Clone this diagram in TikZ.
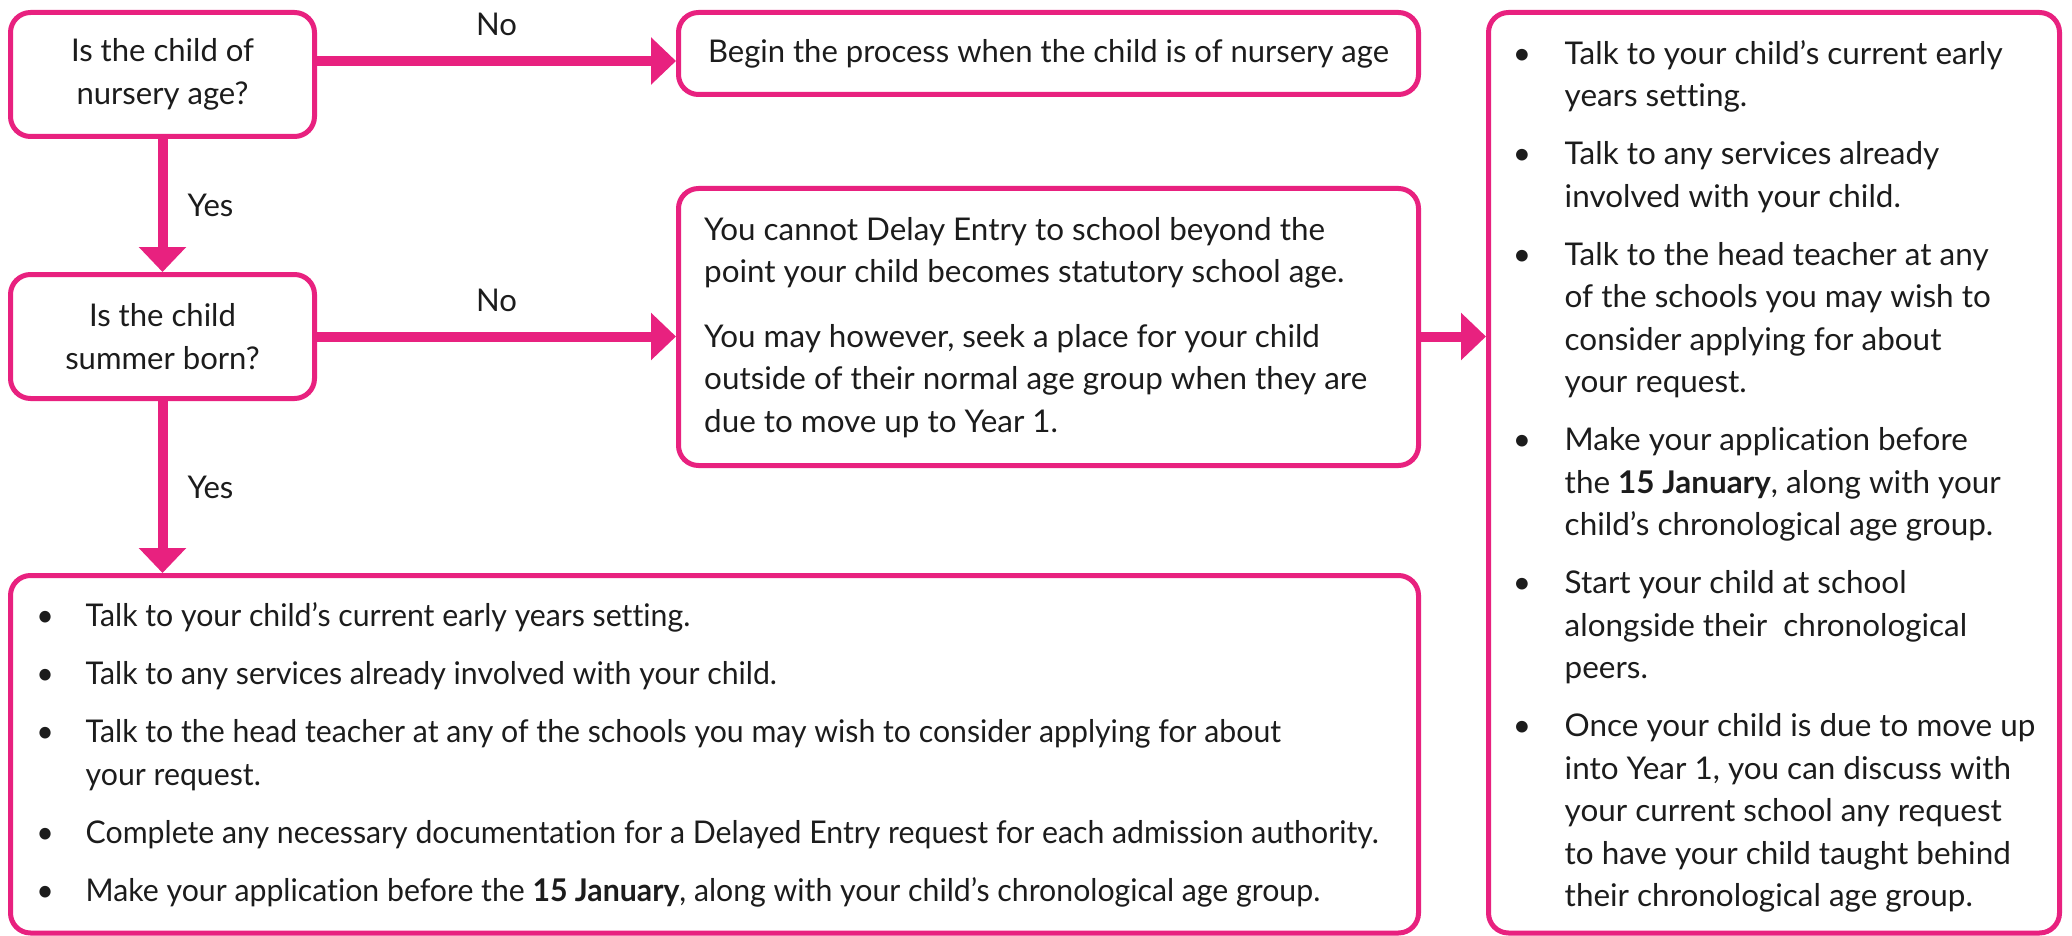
\documentclass[tikz,border=0pt]{standalone}
\usepackage{fontspec}
\setmainfont{Lato}[Ligatures={NoCommon}]
\usetikzlibrary{arrows.meta}
\definecolor{pinkc}{RGB}{232,33,127}
\definecolor{txtc}{RGB}{28,28,28}
\newlength{\bulind}
\newlength{\bulpos}
\newlength{\tmpw}
\newcommand{\bitem}[1]{\hangindent=\bulind\hangafter=1\noindent\makebox[\bulind][l]{\hspace*{\bulpos}\makebox[0pt][c]{•}}\rule{0pt}{30pt}#1\par}
\newcommand{\basesz}{\fontsize{31.3}{42.5}\selectfont}
\newcommand{\calcst}[3]{\begingroup\basesz\settowidth{\tmpw}{#3}\pgfmathparse{#2/\tmpw}\xdef#1{\pgfmathresult}\endgroup}
\newcommand{\usest}[1]{\edef\tmpcmd{\noexpand\addfontfeatures{FakeStretch=#1}}\tmpcmd}
\begin{document}
\calcst{\stA}{183}{Is the child of}%
\calcst{\stB}{681}{Begin the process when the child is of nursery age}%
\calcst{\stC}{663}{outside of their normal age group when they are}%
\calcst{\stE}{1293}{Complete any necessary documentation for a Delayed Entry request for each admission authority.}%
\calcst{\stF}{438}{Talk to your child’s current early}%
\begin{tikzpicture}[x=1pt,y=-1pt,
  box/.style={draw=pinkc, line width=5pt, rounded corners=20pt, inner sep=0pt, text=txtc, align=center},
  arr/.style={draw=pinkc, line width=10pt, -{Triangle[length=25pt,width=46pt]}},
  lbl/.style={font=\basesz\usest{\stA}, text=txtc, inner sep=0pt},
  body/.style={text=txtc, inner sep=0pt, anchor=north west}]
\useasboundingbox (0,0) rectangle (2072,936);
% boxes
\node[box, font=\basesz\usest{\stA}, minimum width=304pt, minimum height=124pt] (A) at (162.5,74.5) {Is the child of\\nursery age?};
\node[box, font=\basesz\usest{\stA}, minimum width=304pt, minimum height=124pt] (D) at (162.5,336.5) {Is the child\\summer born?};
\node[box, font=\basesz\usest{\stB}, minimum width=740pt, minimum height=82pt] (B) at (1048.5,53.5) {Begin the process when the child is of nursery age};
\node[box, minimum width=740pt, minimum height=277pt] (C) at (1048.5,327) {};
\node[box, minimum width=1408pt, minimum height=357.5pt] (E) at (714.5,754.25) {};
\node[box, minimum width=571pt, minimum height=920.5pt] (F) at (1774,472.75) {};
% texts
\node[body] (Ct) at (704,210) {\begin{minipage}[t]{710pt}\basesz\usest{\stC}\setlength{\parskip}{22pt}\setlength{\parindent}{0pt}%
\rule{0pt}{30pt}You cannot Delay Entry to school beyond the\newline point your child becomes statutory school age.\par
\rule{0pt}{30pt}You may however, seek a place for your child\newline outside of their normal age group when they are\newline due to move up to Year 1.\par
\end{minipage}};
\node[body] (Et) at (20,596.7) {\begin{minipage}[t]{1395pt}\basesz\usest{\stE}\setlength{\parskip}{15.5pt}\setlength{\parindent}{0pt}%
\setlength{\bulind}{65.5pt}\setlength{\bulpos}{25pt}%
\bitem{Talk to your child’s current early years setting.}
\bitem{Talk to any services already involved with your child.}
\bitem{Talk to the head teacher at any of the schools you may wish to consider applying for about\newline your request.}
\bitem{Complete any necessary documentation for a Delayed Entry request for each admission authority.}
\bitem{Make your application before the \textbf{15 January}, along with your child’s chronological age group.}
\end{minipage}};
\node[body] (Ft) at (1497,34.3) {\begin{minipage}[t]{566pt}\basesz\usest{\stF}\setlength{\parskip}{15.5pt}\setlength{\parindent}{0pt}%
\setlength{\bulind}{67.5pt}\setlength{\bulpos}{24.7pt}%
\bitem{Talk to your child’s current early\newline years setting.}
\bitem{Talk to any services already\newline involved with your child.}
\bitem{Talk to the head teacher at any\newline of the schools you may wish to\newline consider applying for about\newline your request.}
\bitem{Make your application before\newline the \textbf{15 January}, along with your\newline child’s chronological age group.}
\bitem{Start your child at school\newline alongside their\ \ chronological\newline peers.}
\bitem{Once your child is due to move up\newline into Year 1, you can discuss with\newline your current school any request\newline to have your child taught behind\newline their chronological age group.}
\end{minipage}};
% connectors
\coordinate (ab) at (0,61);
\draw[arr] (A.east |- ab) -- node[lbl, midway, above=20pt] (no1) {No} (B.west |- ab);
\draw[arr] (A.south) -- node[lbl, midway, right=20pt] (yes1) {Yes} (D.north);
\draw[arr] (D.east) -- node[lbl, midway, above=20pt] (no2) {No} (D.east -| C.west);
\draw[arr] (D.south) -- node[lbl, midway, right=20pt] (yes2) {Yes} (D.south |- E.north);
\draw[arr] (C.east |- D.east) -- (D.east -| F.west);
\end{tikzpicture}
\end{document}
